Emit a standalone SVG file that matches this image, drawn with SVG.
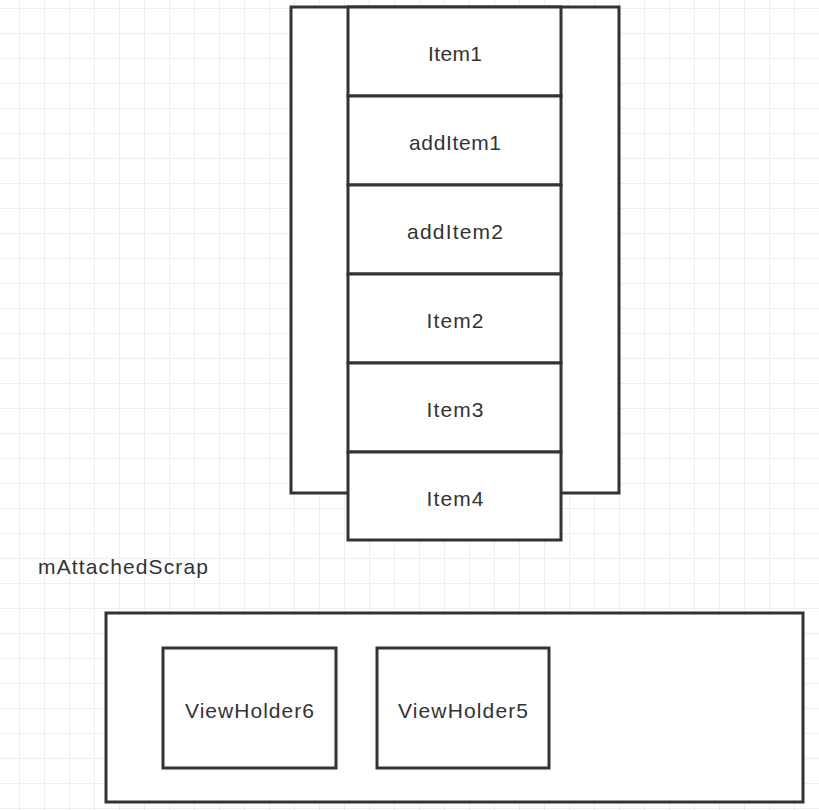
<svg xmlns="http://www.w3.org/2000/svg" width="819" height="810" viewBox="0 0 819 810">
<style>
.box{fill:#fff;stroke:#333;stroke-width:3}
.t{font-family:"Liberation Sans",Arial,sans-serif;font-size:21px;fill:#333;text-anchor:middle}
.lbl{font-family:"Liberation Sans",Arial,sans-serif;font-size:21px;fill:#333}
</style>
<defs>
<pattern id="grid" x="19" y="8" width="25" height="25" patternUnits="userSpaceOnUse">
<path d="M0.5 0V25M0 0.5H25" fill="none" stroke="#efefef" stroke-width="1"/>
</pattern>
</defs>
<rect width="819" height="810" fill="#fff"/>
<rect width="819" height="810" fill="url(#grid)"/>
<g id="recycler">
<rect class="box" x="291" y="7" width="328" height="486"/>
</g>
<g id="item1"><rect class="box" x="348" y="7" width="213" height="89"/><text class="t" x="455" y="61" textLength="54">Item1</text></g>
<g id="addItem1"><rect class="box" x="348" y="96" width="213" height="89"/><text class="t" x="455" y="150" textLength="92">addItem1</text></g>
<g id="addItem2"><rect class="box" x="348" y="185" width="213" height="89"/><text class="t" x="455" y="239" textLength="96">addItem2</text></g>
<g id="item2"><rect class="box" x="348" y="274" width="213" height="89"/><text class="t" x="455" y="328" textLength="57">Item2</text></g>
<g id="item3"><rect class="box" x="348" y="363" width="213" height="89"/><text class="t" x="455" y="417" textLength="57">Item3</text></g>
<g id="item4"><rect class="box" x="348" y="452" width="213" height="88"/><text class="t" x="455" y="506" textLength="57">Item4</text></g>
<g id="mAttachedScrap-label"><text class="lbl" x="38" y="574" textLength="170">mAttachedScrap</text></g>
<g id="mAttachedScrap"><rect class="box" x="106" y="613" width="697" height="189"/></g>
<g id="vh6"><rect class="box" x="163" y="648" width="173" height="120"/><text class="t" x="249.5" y="718" textLength="129">ViewHolder6</text></g>
<g id="vh5"><rect class="box" x="377" y="648" width="172" height="120"/><text class="t" x="463" y="718" textLength="130">ViewHolder5</text></g>
<g id="connectors"></g>
</svg>
